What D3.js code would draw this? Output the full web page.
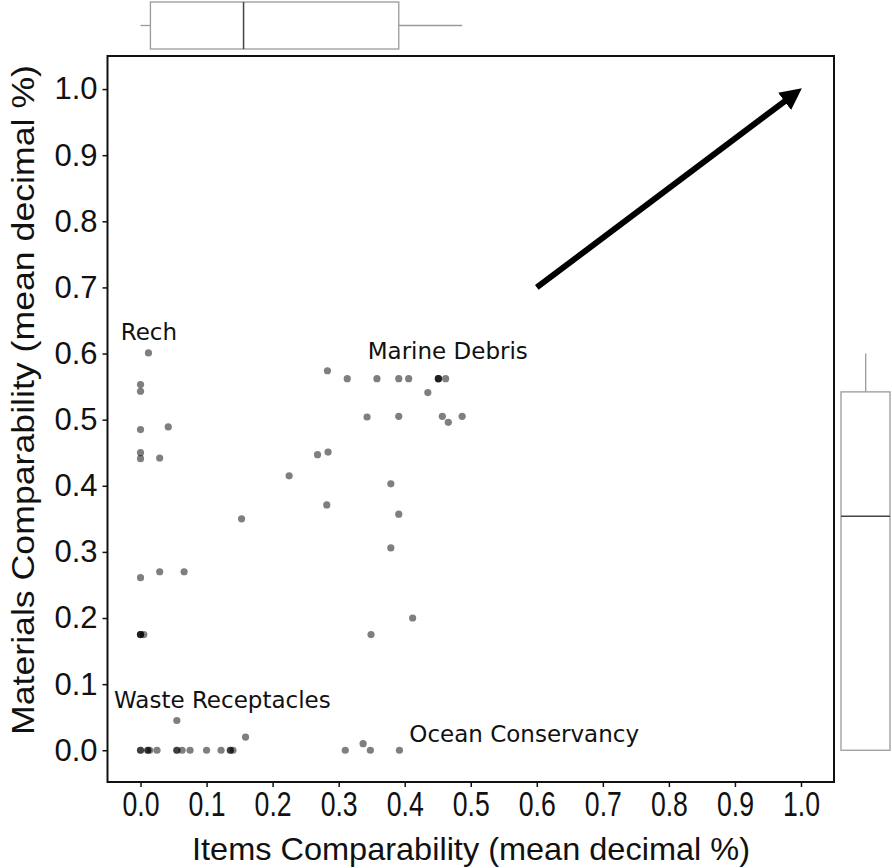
<!DOCTYPE html>
<html>
<head>
<meta charset="utf-8">
<script src="https://cdn.jsdelivr.net/npm/d3@7"></script>
<style>
  body { margin: 0; background: #fff; }
  svg { display: block; }
</style>
</head>
<body>
<svg width="892" height="868"></svg>
<script>
// data
var itemsX = [0.012, 0, 0, 0, 0.042, 0, 0, 0.029, 0.225, 0.153, 0, 0.029, 0.066,
  0, 0, 0, 0.005,
  0.283, 0.313, 0.358, 0.391, 0.406, 0.451, 0.451, 0.451, 0.462, 0.435,
  0.343, 0.391, 0.457, 0.466, 0.487, 0.268, 0.284, 0.379, 0.282, 0.391,
  0.379, 0.412, 0.349,
  0, 0, 0.011, 0.011, 0.014, 0.025, 0.055, 0.055, 0.063, 0.075, 0.100, 0.122,
  0.136, 0.136, 0.140, 0.310, 0.348, 0.392, 0.055, 0.159, 0.337];
var materialsY = [0.601, 0.553, 0.543, 0.485, 0.489, 0.450, 0.441, 0.442, 0.415, 0.350, 0.261, 0.270, 0.270,
  0.175, 0.175, 0.175, 0.175,
  0.574, 0.562, 0.562, 0.562, 0.562, 0.562, 0.562, 0.562, 0.562, 0.541,
  0.504, 0.505, 0.505, 0.496, 0.505, 0.447, 0.451, 0.403, 0.371, 0.357,
  0.306, 0.200, 0.175,
  0, 0, 0, 0, 0, 0, 0, 0, 0, 0, 0, 0,
  0, 0, 0, 0, 0, 0, 0.045, 0.020, 0.010];

// box stats: min, q1, median, q3, max
var itemsBox = [0, 0.015, 0.156, 0.391, 0.487];
var materialsBox = [0, 0, 0.354, 0.542, 0.600];

var labelNames = ["Rech", "Marine Debris", "Waste Receptacles", "Ocean Conservancy"];
var labelX = [-0.03, 0.344, -0.04, 0.407];
var labelY = [0.621, 0.591, 0.064, 0.013];

var arrowFrom = [0.6, 0.7];
var arrowTo = [1.0, 1.0];

var ticks = [0, 0.1, 0.2, 0.3, 0.4, 0.5, 0.6, 0.7, 0.8, 0.9, 1.0];

var svg = d3.select("svg");
var plotL = 107.5, plotR = 834, plotT = 56, plotB = 782;

var x = d3.scaleLinear().domain([-0.05, 1.05]).range([plotL, plotR]);
var y = d3.scaleLinear().domain([-0.048, 1.05]).range([plotB, plotT]);

// frame
svg.append("rect")
  .attr("x", plotL).attr("y", plotT)
  .attr("width", plotR - plotL).attr("height", plotB - plotT)
  .attr("fill", "none").attr("stroke", "#111").attr("stroke-width", 2);

// axes
var xAxis = svg.append("g")
  .attr("transform", "translate(0," + plotB + ")")
  .call(d3.axisBottom(x).tickValues(ticks).tickFormat(d3.format(".1f")).tickSize(5).tickPadding(3));
xAxis.select(".domain").remove();
xAxis.selectAll("line").attr("stroke", "#111").attr("stroke-width", 1.5);
xAxis.selectAll("text")
  .attr("font-family", "Liberation Sans, Arial, sans-serif")
  .attr("font-size", 36).attr("fill", "#111")
  .attr("transform", "scale(0.74,1)");

var yAxis = svg.append("g")
  .attr("transform", "translate(" + plotL + ",0)")
  .call(d3.axisLeft(y).tickValues(ticks).tickFormat(d3.format(".1f")).tickSize(5).tickPadding(5));
yAxis.select(".domain").remove();
yAxis.selectAll("line").attr("stroke", "#111").attr("stroke-width", 1.5);
yAxis.selectAll("text")
  .attr("font-family", "Liberation Sans, Arial, sans-serif")
  .attr("font-size", 31).attr("fill", "#111");

// axis titles
svg.append("text")
  .attr("x", 471).attr("y", 860)
  .attr("text-anchor", "middle")
  .attr("font-family", "Liberation Sans, Arial, sans-serif").attr("font-size", 32)
  .attr("textLength", 558).attr("lengthAdjust", "spacingAndGlyphs")
  .attr("fill", "#111")
  .text("Items Comparability (mean decimal %)");

svg.append("text")
  .attr("transform", "translate(34,400) rotate(-90)")
  .attr("text-anchor", "middle")
  .attr("font-family", "Liberation Sans, Arial, sans-serif").attr("font-size", 31)
  .attr("textLength", 670).attr("lengthAdjust", "spacingAndGlyphs")
  .attr("fill", "#111")
  .text("Materials Comparability (mean decimal %)");

// points
svg.append("g").selectAll("circle")
  .data(d3.range(itemsX.length))
  .join("circle")
  .attr("cx", function (i) { return x(itemsX[i]); })
  .attr("cy", function (i) { return y(materialsY[i]); })
  .attr("r", 3.6)
  .attr("fill", "#000")
  .attr("fill-opacity", 0.5);

// labels
svg.append("g").selectAll("text")
  .data(labelNames)
  .join("text")
  .attr("x", function (d, i) { return x(labelX[i]); })
  .attr("y", function (d, i) { return y(labelY[i]); })
  .attr("font-family", "DejaVu Sans").attr("font-size", 23)
  .attr("fill", "#111")
  .text(function (d) { return d; });

// arrow
svg.append("defs").append("marker")
  .attr("id", "head")
  .attr("viewBox", "0 0 10 10")
  .attr("refX", 6).attr("refY", 5)
  .attr("markerWidth", 3.6).attr("markerHeight", 3.6)
  .attr("orient", "auto")
  .append("path").attr("d", "M0,0 L10,5 L0,10 z").attr("fill", "#000");

svg.append("line")
  .attr("x1", x(arrowFrom[0])).attr("y1", y(arrowFrom[1]))
  .attr("x2", x(arrowTo[0]) - 6).attr("y2", y(arrowTo[1]) + 4.5)
  .attr("stroke", "#000").attr("stroke-width", 6)
  .attr("marker-end", "url(#head)");

// top boxplot (items)
var tb = svg.append("g");
var tTop = 2, tBot = 49, tMid = 25.5;
tb.append("line")
  .attr("x1", x(itemsBox[0])).attr("x2", x(itemsBox[1]))
  .attr("y1", tMid).attr("y2", tMid);
tb.append("line")
  .attr("x1", x(itemsBox[3])).attr("x2", x(itemsBox[4]))
  .attr("y1", tMid).attr("y2", tMid);
tb.append("rect")
  .attr("x", x(itemsBox[1])).attr("y", tTop)
  .attr("width", x(itemsBox[3]) - x(itemsBox[1])).attr("height", tBot - tTop)
  .attr("fill", "#fff");
tb.selectAll("line, rect").attr("stroke", "#9a9a9a").attr("stroke-width", 1.3);
tb.append("line")
  .attr("x1", x(itemsBox[2])).attr("x2", x(itemsBox[2]))
  .attr("y1", tTop).attr("y2", tBot)
  .attr("stroke", "#444").attr("stroke-width", 1.5);

// right boxplot (materials)
var rb = svg.append("g");
var rL = 841, rR = 890, rMid = 865.7;
rb.append("line")
  .attr("x1", rMid).attr("x2", rMid)
  .attr("y1", y(materialsBox[3])).attr("y2", y(materialsBox[4]));
rb.append("line")
  .attr("x1", rMid).attr("x2", rMid)
  .attr("y1", y(materialsBox[0])).attr("y2", y(materialsBox[1]));
rb.append("rect")
  .attr("x", rL).attr("y", y(materialsBox[3]))
  .attr("width", rR - rL).attr("height", y(materialsBox[1]) - y(materialsBox[3]))
  .attr("fill", "#fff");
rb.selectAll("line, rect").attr("stroke", "#9a9a9a").attr("stroke-width", 1.3);
rb.append("line")
  .attr("x1", rL).attr("x2", rR)
  .attr("y1", y(materialsBox[2])).attr("y2", y(materialsBox[2]))
  .attr("stroke", "#444").attr("stroke-width", 1.5);
</script>
</body>
</html>
